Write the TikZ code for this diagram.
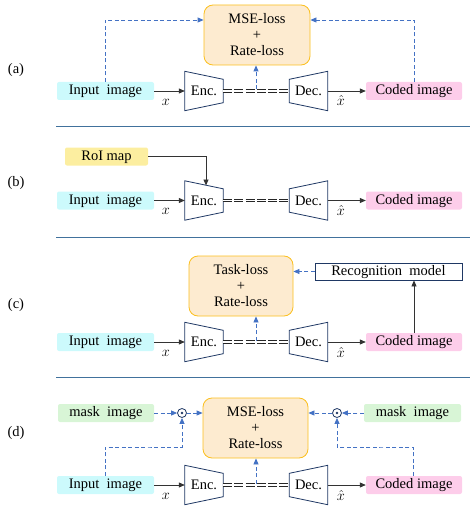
\documentclass[tikz,border=0pt]{standalone}
\usepackage{fontspec}
\setmainfont{Liberation Serif}
\usetikzlibrary{arrows.meta,calc}
\definecolor{cyanf}{HTML}{CCFAFC}
\definecolor{pinkf}{HTML}{FDCDEA}
\definecolor{yelf}{HTML}{FCEEA0}
\definecolor{greenf}{HTML}{D8F5D6}
\definecolor{lossf}{HTML}{FDEBD0}
\definecolor{lossd}{HTML}{FBBF1E}
\definecolor{dblue}{HTML}{4472C4}
\definecolor{navy}{HTML}{1F3864}
\definecolor{sepc}{HTML}{41719C}
\tikzset{
  txt/.style={font=\fontsize{14.5}{16}\selectfont, inner sep=0pt},
  colbox/.style={txt, rounded corners=2pt, minimum height=18pt, text height=10pt, text depth=3pt},
  lossbox/.style={txt, draw=lossd, fill=lossf, line width=0.8pt, rounded corners=9pt, align=center, minimum height=60pt},
  codec/.style={inner sep=0pt, minimum width=38pt, minimum height=39pt},
  trap/.style={draw=navy, line width=0.8pt, fill=white},
  arr/.style={-{Triangle[length=6pt,width=5pt]}, line width=0.8pt, black!80},
  darr/.style={-{Triangle[length=6pt,width=5pt]}, line width=0.8pt, dblue, dash pattern=on 4pt off 2.5pt},
  chan/.style={double=white, double distance=1.8pt, line width=0.7pt, black!85, dash pattern=on 9pt off 2.2pt},
  sep/.style={sepc, line width=0.9pt},
  plabel/.style={font=\fontsize{14.5}{16}\selectfont, inner sep=0pt},
  vlab/.style={inner sep=0pt, font=\fontsize{15}{16}\selectfont},
  odotn/.style={circle, draw=navy, line width=0.8pt, minimum size=9pt, inner sep=0pt, fill=white},
}
\newcommand{\coderow}[2]{%
  \node[colbox, fill=cyanf, minimum width=97pt] (in#1) at (105.5,#2) {Input\ \ image};
  \node[codec] (enc#1) at (204,#2) {};
  \draw[trap] (enc#1.north west) -- ($(enc#1.north east)+(0,8)$) -- ($(enc#1.south east)+(0,-8)$) -- (enc#1.south west) -- cycle;
  \node[txt] at (enc#1) {Enc.};
  \node[codec] (dec#1) at (308.5,#2) {};
  \draw[trap] ($(dec#1.north west)+(0,8)$) -- (dec#1.north east) -- (dec#1.south east) -- ($(dec#1.south west)+(0,-8)$) -- cycle;
  \node[txt] at (dec#1) {Dec.};
  \node[colbox, fill=pinkf, minimum width=96pt] (out#1) at (414,#2) {Coded image};
  \draw[chan] (enc#1.east) -- (dec#1.west);
  \draw[arr] (in#1.east) -- (enc#1.west);
  \draw[arr] (dec#1.east) -- (out#1.west);
  \node[vlab] (xl#1) at (166,#2+11) {$x$};
  \node[vlab] (xh#1) at (341,#2+10) {$\hat{x}$};
  \coordinate (mid#1) at (256,#2-1.5);
}
\begin{document}
\begin{tikzpicture}[x=1pt,y=-1pt]
\useasboundingbox (0,0) rectangle (470,516);
% ---------- (a)
\node[plabel] (la) at (16,70) {(a)};
\node[lossbox, minimum width=106pt] (lossa) at (257,35) {MSE-loss\\+\\Rate-loss};
\coderow{a}{91}
\draw[darr] (mida) -- (lossa.south -| mida);
\draw[darr] (ina.north -| 105,0) |- (lossa.west |- 0,20);
\draw[darr] (outa.north -| 414,0) |- (lossa.east |- 0,20);
\draw[sep] (56,126) -- (470,126);
% ---------- (b)
\node[plabel] (lb) at (16,183) {(b)};
\node[colbox, fill=yelf, minimum width=83pt] (roi) at (106.5,156.5) {RoI map};
\coderow{b}{200.5}
\coordinate (roitip) at (206,185.5);
\draw[arr] (roi.east) -| (roitip);
\draw[sep] (56,237) -- (470,237);
% ---------- (c)
\node[plabel] (lc) at (16,305) {(c)};
\node[lossbox, minimum width=104pt] (lossc) at (241,286) {Task-loss\\+\\Rate-loss};
\node[txt, draw=navy, line width=0.8pt, minimum width=147pt, minimum height=17pt, text height=10pt, text depth=3pt] (rec) at (388.5,271.5) {Recognition\ \ model};
\coderow{c}{342}
\draw[darr] (midc) -- (lossc.south -| midc);
\draw[darr] (rec.west) -- (lossc.east |- rec.west);
\draw[arr] (outc.north -| 414,0) -- (rec.south -| 414,0);
\draw[sep] (56,377) -- (470,377);
% ---------- (d)
\node[plabel] (ld) at (16,433) {(d)};
\node[lossbox, minimum width=105pt] (lossd) at (255.5,428) {MSE-loss\\+\\Rate-loss};
\node[colbox, fill=greenf, minimum width=96pt] (maskl) at (106,413) {mask\ \ image};
\node[colbox, fill=greenf, minimum width=97pt] (maskr) at (412.5,413) {mask\ \ image};
\node[odotn] (odl) at (182,413) {};
\node[odotn] (odr) at (337,413) {};
\fill[navy] (odl) circle (1.3pt);
\fill[navy] (odr) circle (1.3pt);
\coderow{d}{485}
\draw[darr] (midd) -- (lossd.south -| midd);
\draw[darr] (maskl.east) -- (odl.west);
\draw[darr] (odl.east) -- (lossd.west |- odl.east);
\draw[darr] (maskr.west) -- (odr.east);
\draw[darr] (odr.west) -- (lossd.east |- odr.west);
\draw[darr] (ind.north -| 105,0) |- (150,447) -| (odl.south);
\draw[darr] (outd.north -| 413,0) |- (380,447) -| (odr.south);
\end{tikzpicture}
\end{document}
